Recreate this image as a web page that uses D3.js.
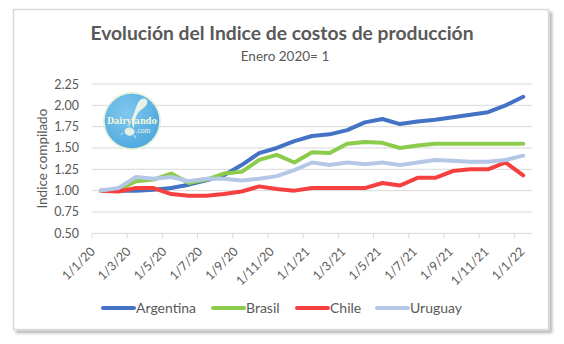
<!DOCTYPE html>
<html>
<head>
<meta charset="utf-8">
<script src="https://cdn.jsdelivr.net/npm/d3@7"></script>
<style>
  body { margin: 0; background: #fff; }
  svg { display: block; font-family: Lato, "Noto Sans", sans-serif; }
</style>
</head>
<body>
<svg id="chart" width="564" height="344"></svg>
<script>
// monthly index, January 2020 = 1
const months = ["1/1/20","1/2/20","1/3/20","1/4/20","1/5/20","1/6/20","1/7/20","1/8/20","1/9/20","1/10/20","1/11/20","1/12/20",
  "1/1/21","1/2/21","1/3/21","1/4/21","1/5/21","1/6/21","1/7/21","1/8/21","1/9/21","1/10/21","1/11/21","1/12/21","1/1/22"];
const argentina = [1.00,1.00,1.00,1.01,1.03,1.07,1.12,1.18,1.30,1.44,1.50,1.58,1.64,1.66,1.71,1.80,1.84,1.78,1.81,1.83,1.86,1.89,1.92,2.00,2.10];
const brasil    = [1.00,1.01,1.11,1.13,1.20,1.09,1.13,1.20,1.22,1.36,1.42,1.33,1.45,1.44,1.55,1.57,1.56,1.50,1.53,1.55,1.55,1.55,1.55,1.55,1.55];
const chile     = [1.00,0.99,1.03,1.03,0.96,0.94,0.94,0.96,0.99,1.05,1.02,1.00,1.03,1.03,1.03,1.03,1.09,1.06,1.15,1.15,1.23,1.25,1.25,1.33,1.18];
const uruguay   = [1.00,1.03,1.16,1.14,1.16,1.11,1.14,1.14,1.12,1.14,1.17,1.24,1.33,1.30,1.33,1.31,1.33,1.30,1.33,1.36,1.35,1.34,1.34,1.36,1.41];
const yTicks = [0.50,0.75,1.00,1.25,1.50,1.75,2.00,2.25];

const series = [
  {name: "Argentina", values: argentina, color: "#4472C4"},
  {name: "Brasil",    values: brasil,    color: "#8CCB4B"},
  {name: "Chile",     values: chile,     color: "#F5403F"},
  {name: "Uruguay",   values: uruguay,   color: "#B4C7E7"}
];

const svg = d3.select("#chart");

// card with soft shadow
const defs = svg.append("defs");
const shadow = defs.append("filter").attr("id", "shadow").attr("x", "-5%").attr("y", "-5%").attr("width", "115%").attr("height", "115%");
shadow.append("feDropShadow").attr("dx", 3).attr("dy", 3).attr("stdDeviation", 1.5).attr("flood-color", "#000").attr("flood-opacity", 0.28);

svg.append("rect")
  .attr("x", 13.5).attr("y", 9.5).attr("width", 535).attr("height", 320)
  .attr("fill", "#fff").attr("stroke", "#d9d9d9").attr("stroke-width", 1.5)
  .attr("filter", "url(#shadow)");

// titles
svg.append("text")
  .attr("x", 282).attr("y", 40)
  .attr("text-anchor", "middle")
  .attr("font-size", 19.3).attr("font-weight", "bold").attr("fill", "#595959")
  .text("Evolución del Indice de costos de producción");

svg.append("text")
  .attr("x", 285).attr("y", 61)
  .attr("text-anchor", "middle")
  .attr("font-size", 13.5).attr("fill", "#595959")
  .text("Enero 2020= 1");

const plotLeft = 92, plotRight = 532, plotTop = 84, plotBottom = 233.3;

const x = d3.scaleBand().domain(months).range([plotLeft, plotRight]).padding(0);
const y = d3.scaleLinear().domain([0.5, 2.25]).range([plotBottom, plotTop]);

// horizontal gridlines
svg.append("g")
  .selectAll("line")
  .data(yTicks.slice(1))
  .join("line")
    .attr("x1", plotLeft).attr("x2", plotRight)
    .attr("y1", d => y(d)).attr("y2", d => y(d))
    .attr("stroke", "#d9d9d9").attr("stroke-width", 1);

// y axis labels
const yAxis = svg.append("g")
  .attr("transform", `translate(${plotLeft},0)`)
  .call(d3.axisLeft(y).tickValues(yTicks).tickFormat(d3.format(".2f")).tickSize(0).tickPadding(13));
yAxis.select(".domain").remove();
yAxis.selectAll("text").attr("font-size", 12.5).attr("fill", "#595959").attr("font-family", "Lato, sans-serif");

svg.append("text")
  .attr("transform", `translate(47,${(plotTop + plotBottom) / 2}) rotate(-90)`)
  .attr("text-anchor", "middle")
  .attr("font-size", 13.5).attr("fill", "#595959")
  .text("Indice compilado");

// x axis: ticks between every second category
const xLabels = months.filter((d, i) => i % 2 === 0);
const xAxis = svg.append("g")
  .attr("transform", `translate(0,${plotBottom})`);
xAxis.append("line")
  .attr("x1", plotLeft).attr("x2", plotRight)
  .attr("stroke", "#d9d9d9");
xAxis.selectAll("line.tick")
  .data(xLabels)
  .join("line")
    .attr("class", "tick")
    .attr("x1", d => x(d)).attr("x2", d => x(d))
    .attr("y1", 0).attr("y2", 5)
    .attr("stroke", "#d9d9d9");
xAxis.selectAll("text")
  .data(xLabels)
  .join("text")
    .attr("transform", (d, i) => `translate(${x(d) + x.bandwidth() / 2 - 5 + i * 0.6},19) rotate(-45)`)
    .attr("text-anchor", "end")
    .attr("font-size", 12.5).attr("fill", "#595959")
    .text(d => d);

// logo badge
const logo = svg.append("g").attr("transform", "translate(132,121)");
const grad = defs.append("radialGradient").attr("id", "badge").attr("cx", "40%").attr("cy", "35%").attr("r", "70%");
grad.append("stop").attr("offset", "0%").attr("stop-color", "#80c8ef");
grad.append("stop").attr("offset", "100%").attr("stop-color", "#4ea8de");
logo.append("circle").attr("r", 29).attr("fill", "#e6f1d8");
logo.append("circle").attr("r", 27.3).attr("fill", "url(#badge)");
// milk pouring from a jug into the letter y
logo.append("path")
  .attr("d", "M7,-20 C11,-25 17,-22 15,-17 C13,-13 9,-12 6,-8 C3,-4 2,2 2,7 C0,5 -1,0 1,-5 C3,-10 4,-15 7,-20 Z")
  .attr("fill", "#f3f7e8").attr("opacity", 0.92);
logo.append("path")
  .attr("d", "M-6,8 C-3,6 1,7 2,10 C3,13 -1,15 -4,14 C-7,13 -8,10 -6,8 Z M-9,12 l-2,2 M2,14 l2,3")
  .attr("fill", "#f3f7e8").attr("stroke", "#f3f7e8").attr("stroke-width", 1).attr("opacity", 0.9);
logo.append("text")
  .attr("x", 0).attr("y", 3)
  .attr("text-anchor", "middle")
  .attr("font-family", "'DejaVu Serif', 'Liberation Serif', serif")
  .attr("font-size", 10).attr("font-weight", "bold").attr("fill", "#f4f6dc")
  .attr("textLength", 50).attr("lengthAdjust", "spacingAndGlyphs")
  .text("Dairylando");
logo.append("text")
  .attr("x", 11).attr("y", 12)
  .attr("text-anchor", "middle")
  .attr("font-family", "'Liberation Serif', serif")
  .attr("font-size", 7.5).attr("fill", "#f4f6dc")
  .text(".com");

// series lines
const line = d3.line()
  .x((d, i) => x(months[i]) + x.bandwidth() / 2)
  .y(d => y(d));

svg.append("g")
  .selectAll("path")
  .data(series)
  .join("path")
    .attr("d", d => line(d.values))
    .attr("fill", "none")
    .attr("stroke", d => d.color)
    .attr("stroke-width", 4)
    .attr("stroke-linejoin", "round")
    .attr("stroke-linecap", "round");

// legend
const legendX = [103, 213, 297, 377];
const legend = svg.append("g")
  .selectAll("g")
  .data(series)
  .join("g")
    .attr("transform", (d, i) => `translate(${legendX[i]},308)`);
legend.append("line")
  .attr("x1", 0).attr("x2", 31)
  .attr("stroke", d => d.color).attr("stroke-width", 4).attr("stroke-linecap", "round");
legend.append("text")
  .attr("x", 33).attr("y", 5)
  .attr("font-size", 14).attr("fill", "#595959")
  .text(d => d.name);
</script>
</body>
</html>
